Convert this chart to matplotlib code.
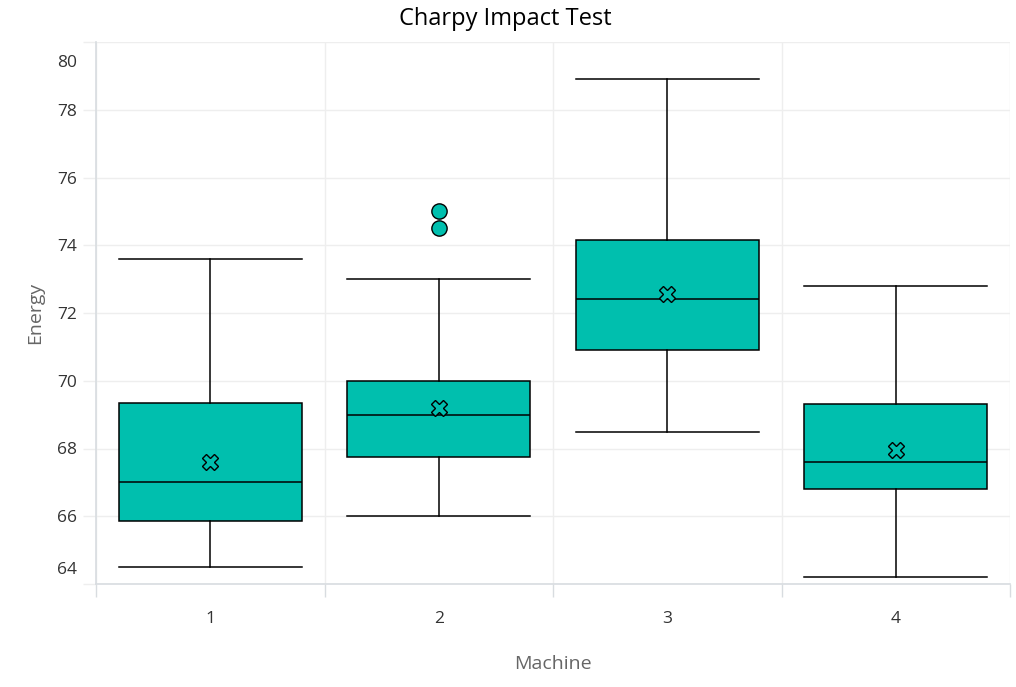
import matplotlib
matplotlib.use("Agg")
import matplotlib.pyplot as plt
import matplotlib.transforms as mtransforms

plt.rcParams['font.family'] = ['Open Sans', 'DejaVu Sans']

# data
machines = ["1", "2", "3", "4"]
whisker_lo = [64.5, 66.0, 68.5, 64.2]
q1 = [65.85, 67.75, 70.9, 66.8]
median = [67.0, 69.0, 72.4, 67.6]
q3 = [69.35, 70.0, 74.15, 69.3]
whisker_hi = [73.6, 73.0, 78.9, 72.8]
means = [67.6, 69.2, 72.55, 67.95]
outliers = [[], [75.0, 74.5], [], []]

y_ticks = [64, 66, 68, 70, 72, 74, 76, 78, 80]

box_color = "#00BFAE"
grid_color = "#EEEEEE"
axis_color = "#D8DCE0"

stats = []
for i, m in enumerate(machines):
    stats.append({
        "label": m,
        "whislo": whisker_lo[i],
        "q1": q1[i],
        "med": median[i],
        "q3": q3[i],
        "whishi": whisker_hi[i],
        "mean": means[i],
        "fliers": outliers[i],
    })

fig = plt.figure(figsize=(10.16, 6.87), dpi=100)
ax = fig.add_axes([96 / 1016, (687 - 584) / 687, (1010 - 96) / 1016, (584 - 42) / 687])

positions = list(range(1, len(machines) + 1))
ax.bxp(
    stats, positions=positions, widths=0.8, patch_artist=True,
    showmeans=True, showfliers=True,
    boxprops=dict(facecolor=box_color, edgecolor="black", linewidth=1.1),
    medianprops=dict(color="black", linewidth=1.1),
    whiskerprops=dict(color="black", linewidth=1.1),
    capprops=dict(color="black", linewidth=1.1),
    capwidths=0.8,
    meanprops=dict(marker="X", markerfacecolor=box_color, markeredgecolor="black",
                   markersize=11, markeredgewidth=1.0),
    flierprops=dict(marker="o", markerfacecolor=box_color, markeredgecolor="black",
                    markersize=11, markeredgewidth=1.0),
    zorder=3,
)

ax.set_xlim(0.5, len(machines) + 0.5)
ax.set_ylim(64, 80)

# category boundaries as major ticks (grid + tick marks), labels at centres
ax.set_xticks([p - 0.5 for p in positions] + [positions[-1] + 0.5])
ax.set_xticklabels([])
ax.set_xticks(positions, minor=True)
ax.set_xticklabels(machines, minor=True)
ax.tick_params(axis="x", which="major", length=9.4, color=axis_color, width=1)
ax.tick_params(axis="x", which="minor", length=0, pad=19.5, labelsize=12.5, labelcolor="#333333")

ax.set_yticks(y_ticks)
ax.set_yticklabels([str(t) for t in y_ticks])
ax.tick_params(axis="y", length=9.4, color=grid_color, width=1, pad=4.3,
               labelsize=12.5, labelcolor="#333333")

# edge labels are pushed inside the plot area
labels = ax.get_yticklabels()
off_top = mtransforms.ScaledTranslation(0, -19 / 100, fig.dpi_scale_trans)
off_bot = mtransforms.ScaledTranslation(0, 16 / 100, fig.dpi_scale_trans)
labels[-1].set_transform(labels[-1].get_transform() + off_top)
labels[0].set_transform(labels[0].get_transform() + off_bot)

ax.grid(True, which="major", color=grid_color, linewidth=1, zorder=0)
ax.set_axisbelow(True)

for side in ["top", "right"]:
    ax.spines[side].set_visible(False)
ax.spines["left"].set_color(axis_color)
ax.spines["bottom"].set_color(axis_color)
ax.spines["left"].set_linewidth(1.2)
ax.spines["bottom"].set_linewidth(1.2)

# title is centred on the figure, not the plot area
fig.text(505 / 1016, 1 - 19 / 687, "Charpy Impact Test", fontsize=17, color="black",
         ha="center", va="center")
ax.set_xlabel("Machine", fontsize=14, color="#666666", labelpad=20)
ax.set_ylabel("Energy", fontsize=14, color="#666666", labelpad=9)

fig.savefig("out.png", dpi=100)
